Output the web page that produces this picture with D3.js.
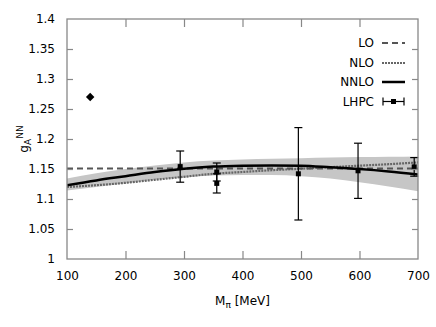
<!DOCTYPE html>
<html>
<head>
<meta charset="utf-8">
<script src="https://cdn.jsdelivr.net/npm/d3@7"></script>
<style>
  body { margin: 0; background: #fff; }
  text { font-family: "DejaVu Sans", sans-serif; fill: #000; }
</style>
</head>
<body>
<div id="chart"></div>
<script>
// chart data
let mPion = [100, 150, 200, 250, 300, 350, 400, 450, 500, 550, 600, 650, 700]
let loValues = [1.151, 1.151, 1.151, 1.151, 1.151, 1.151, 1.151, 1.151, 1.151, 1.151, 1.151, 1.151, 1.151]
let nloValues = [1.120, 1.123, 1.127, 1.132, 1.137, 1.142, 1.145, 1.148, 1.1505, 1.153, 1.1555, 1.158, 1.161]
let nnloValues = [1.123, 1.131, 1.138, 1.145, 1.1505, 1.154, 1.1555, 1.156, 1.1555, 1.153, 1.150, 1.146, 1.141]
let bandTop = [1.134, 1.143, 1.150, 1.156, 1.161, 1.164, 1.166, 1.167, 1.168, 1.169, 1.170, 1.1705, 1.171]
let bandBottom = [1.114, 1.120, 1.126, 1.132, 1.136, 1.139, 1.140, 1.140, 1.138, 1.134, 1.128, 1.121, 1.113]

let lhpcM = [293.5, 356, 356, 495.5, 597.5, 693.5]
let lhpcG = [1.154, 1.145, 1.126, 1.142, 1.147, 1.1535]
let lhpcErr = [0.026, 0.015, 0.016, 0.077, 0.046, 0.0155]

let physM = [139.6]
let physG = [1.27]

let xTicks = [100, 200, 300, 400, 500, 600, 700]
let yTicks = [1, 1.05, 1.1, 1.15, 1.2, 1.25, 1.3, 1.35, 1.4]
let legendNames = ["LO", "NLO", "NNLO", "LHPC"]

let width = 436, height = 327
let pLeft = 67, pRight = 418, pTop = 19, pBottom = 259

let svg = d3.select("#chart").append("svg")
  .attr("width", width)
  .attr("height", height)

let x = d3.scaleLinear().domain([100, 700]).range([pLeft, pRight])
let y = d3.scaleLinear().domain([1, 1.4]).range([pBottom, pTop])

svg.append("clipPath").attr("id", "clip")
  .append("rect")
  .attr("x", pLeft).attr("y", pTop)
  .attr("width", pRight - pLeft).attr("height", pBottom - pTop)

let plot = svg.append("g").attr("clip-path", "url(#clip)")

// error band of NNLO
let area = d3.area()
  .x((d, i) => x(mPion[i]))
  .y0((d, i) => y(bandBottom[i]))
  .y1((d, i) => y(bandTop[i]))
  .curve(d3.curveMonotoneX)

plot.append("path")
  .datum(mPion)
  .attr("d", area)
  .style("fill", "#c6c6c6")

let lineOf = function(vals) {
  return d3.line()
    .x((d, i) => x(mPion[i]))
    .y((d, i) => y(vals[i]))
    .curve(d3.curveMonotoneX)(mPion)
}

plot.append("path").attr("d", lineOf(nloValues))
  .style("fill", "none").style("stroke", "#666").style("stroke-width", 2.2)
  .style("stroke-dasharray", "2,1")

plot.append("path").attr("d", lineOf(loValues))
  .style("fill", "none").style("stroke", "#555").style("stroke-width", 2)
  .style("stroke-dasharray", "6,4")

plot.append("path").attr("d", lineOf(nnloValues))
  .style("fill", "none").style("stroke", "#000").style("stroke-width", 2.5)

// LHPC points with error bars
let pts = svg.selectAll("g.pt")
  .data(lhpcM)
  .enter()
  .append("g").attr("class", "pt")

pts.append("line")
  .attr("x1", d => x(d)).attr("x2", d => x(d))
  .attr("y1", (d, i) => y(lhpcG[i] + lhpcErr[i]))
  .attr("y2", (d, i) => y(lhpcG[i] - lhpcErr[i]))
  .style("stroke", "#000").style("stroke-width", 1.2)

pts.append("line")
  .attr("x1", d => x(d) - 4).attr("x2", d => x(d) + 4)
  .attr("y1", (d, i) => y(lhpcG[i] + lhpcErr[i]))
  .attr("y2", (d, i) => y(lhpcG[i] + lhpcErr[i]))
  .style("stroke", "#000").style("stroke-width", 1.2)

pts.append("line")
  .attr("x1", d => x(d) - 4).attr("x2", d => x(d) + 4)
  .attr("y1", (d, i) => y(lhpcG[i] - lhpcErr[i]))
  .attr("y2", (d, i) => y(lhpcG[i] - lhpcErr[i]))
  .style("stroke", "#000").style("stroke-width", 1.2)

pts.append("rect")
  .attr("x", d => x(d) - 2.5)
  .attr("y", (d, i) => y(lhpcG[i]) - 2.5)
  .attr("width", 5).attr("height", 5)
  .style("fill", "#000")

// physical point diamond
svg.selectAll("path.phys")
  .data(physM)
  .enter()
  .append("path").attr("class", "phys")
  .attr("d", d3.symbol().type(d3.symbolSquare).size(36))
  .attr("transform", (d, i) => "translate(" + x(d) + "," + y(physG[i]) + ") rotate(45)")
  .style("fill", "#000")

// frame and ticks
svg.append("rect")
  .attr("x", pLeft).attr("y", pTop)
  .attr("width", pRight - pLeft).attr("height", pBottom - pTop)
  .style("fill", "none").style("stroke", "#888").style("stroke-width", 1.3)

svg.append("g").attr("transform", "translate(0," + pBottom + ")")
  .call(d3.axisBottom(x).tickValues(xTicks).tickSizeInner(-8).tickSizeOuter(0).tickPadding(12))
svg.append("g").attr("transform", "translate(0," + pTop + ")")
  .call(d3.axisTop(x).tickValues(xTicks).tickSizeInner(-8).tickSizeOuter(0).tickFormat(""))
svg.append("g").attr("transform", "translate(" + pLeft + ",0)")
  .call(d3.axisLeft(y).tickValues(yTicks).tickSizeInner(-6).tickSizeOuter(0).tickPadding(12)
    .tickFormat(d3.format("~g")))
svg.append("g").attr("transform", "translate(" + pRight + ",0)")
  .call(d3.axisRight(y).tickValues(yTicks).tickSizeInner(-6).tickSizeOuter(0).tickFormat(""))

svg.selectAll(".domain").remove()
svg.selectAll(".tick line").style("stroke", "#888").style("stroke-width", 1.2)
svg.selectAll(".tick text").style("font-size", "12px").style("font-family", "DejaVu Sans").style("fill", "#000")
// hide tick marks at corners
svg.selectAll(".tick").filter(d => d === 100 || d === 700 || d === 1 || d === 1.4)
  .select("line").style("display", "none")

// axis titles
let xt = svg.append("text")
  .attr("x", (pLeft + pRight) / 2).attr("y", 305)
  .attr("text-anchor", "middle")
  .style("font-size", "12px")
xt.append("tspan").text("M")
xt.append("tspan").text("π").attr("dy", 3).style("font-size", "9px")
xt.append("tspan").text(" [MeV]").attr("dy", -3)

let yt = svg.append("text")
  .attr("transform", "translate(28," + 139 + ") rotate(-90)")
  .attr("text-anchor", "middle")
  .style("font-size", "12px")
yt.append("tspan").text("g")
yt.append("tspan").text("A").attr("dy", 3).style("font-size", "9px")
yt.append("tspan").text("NN").attr("dy", -8).style("font-size", "9px")

// legend
let legY = [43, 63, 82, 101.5]
let leg = svg.selectAll("g.leg")
  .data(legendNames)
  .enter()
  .append("g").attr("class", "leg")
  .attr("transform", (d, i) => "translate(0," + legY[i] + ")")

leg.append("text")
  .attr("x", 374).attr("y", 0).attr("dy", "0.35em")
  .attr("text-anchor", "end")
  .style("font-size", "12px")
  .text(d => d)

leg.filter(d => d === "LO").append("line")
  .attr("x1", 382).attr("x2", 405).attr("y1", 0).attr("y2", 0)
  .style("stroke", "#555").style("stroke-width", 2).style("stroke-dasharray", "6,4")
leg.filter(d => d === "NLO").append("line")
  .attr("x1", 382).attr("x2", 405).attr("y1", 0).attr("y2", 0)
  .style("stroke", "#666").style("stroke-width", 2).style("stroke-dasharray", "2,1")
leg.filter(d => d === "NNLO").append("line")
  .attr("x1", 382).attr("x2", 405).attr("y1", 0).attr("y2", 0)
  .style("stroke", "#000").style("stroke-width", 2.5)

let lh = leg.filter(d => d === "LHPC")
lh.append("line").attr("x1", 383).attr("x2", 404).attr("y1", 0).attr("y2", 0)
  .style("stroke", "#000").style("stroke-width", 1.2)
lh.append("line").attr("x1", 383).attr("x2", 383).attr("y1", -4).attr("y2", 4)
  .style("stroke", "#000").style("stroke-width", 1.2)
lh.append("line").attr("x1", 404).attr("x2", 404).attr("y1", -4).attr("y2", 4)
  .style("stroke", "#000").style("stroke-width", 1.2)
lh.append("rect").attr("x", 391).attr("y", -2.5).attr("width", 5).attr("height", 5)
  .style("fill", "#000")
</script>
</body>
</html>
